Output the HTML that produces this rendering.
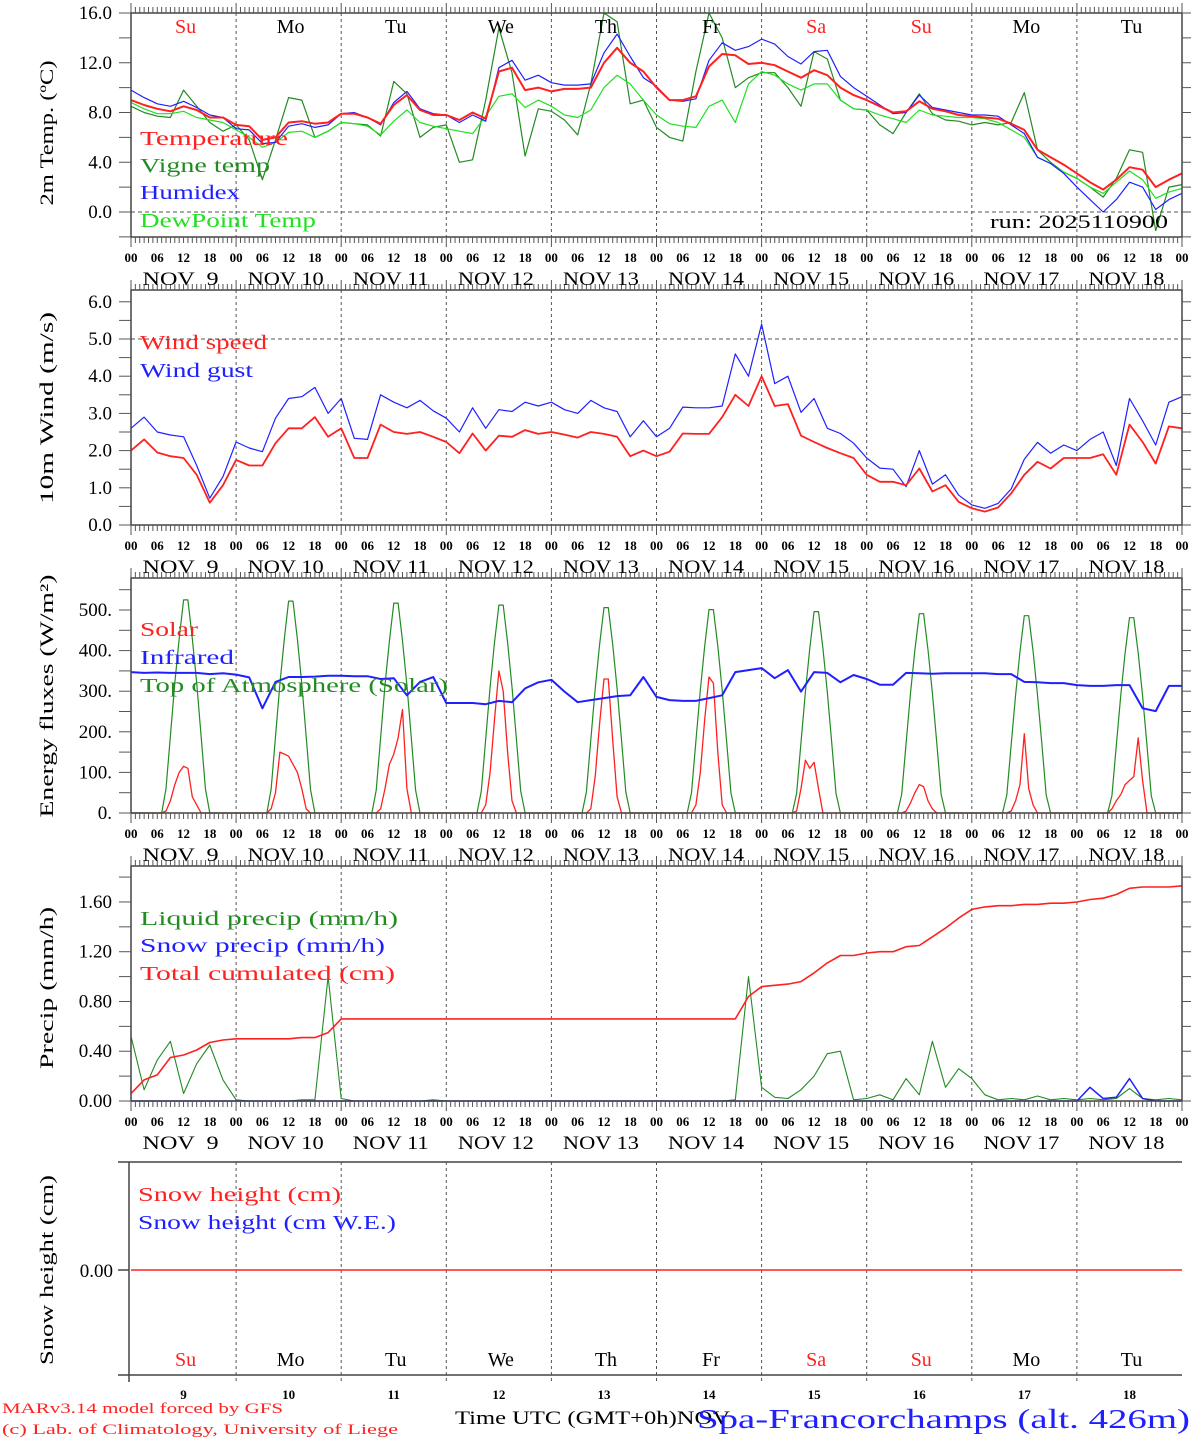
<!DOCTYPE html>
<html><head><meta charset="utf-8"><style>
html,body{margin:0;padding:0;background:#fff;}
svg{display:block;font-family:"Liberation Serif",serif;}
</style></head><body>
<svg id="chart" xmlns="http://www.w3.org/2000/svg" width="1194" height="1440" viewBox="0 0 1194 1440">
<rect x="0" y="0" width="1194" height="1440" fill="#fff"/>
<g id="grid"></g>
<g id="marks"></g>
<g id="axes"></g>
<g id="labels" font-family="Liberation Serif, serif">
<text transform="translate(53,133) rotate(-90)" text-anchor="middle" font-size="19" textLength="145" lengthAdjust="spacingAndGlyphs">2m Temp. (ºC)</text>
<text transform="translate(53,408) rotate(-90)" text-anchor="middle" font-size="19" textLength="192" lengthAdjust="spacingAndGlyphs">10m Wind (m/s)</text>
<text transform="translate(53,696) rotate(-90)" text-anchor="middle" font-size="19" textLength="243" lengthAdjust="spacingAndGlyphs">Energy fluxes (W/m²)</text>
<text transform="translate(53,988) rotate(-90)" text-anchor="middle" font-size="19" textLength="162" lengthAdjust="spacingAndGlyphs">Precip (mm/h)</text>
<text transform="translate(53,1270) rotate(-90)" text-anchor="middle" font-size="19" textLength="190" lengthAdjust="spacingAndGlyphs">Snow height (cm)</text>

<text x="140" y="145" font-size="20" fill="#ff2020" textLength="148" lengthAdjust="spacingAndGlyphs">Temperature</text>
<text x="140" y="172" font-size="20" fill="#228b22" textLength="130" lengthAdjust="spacingAndGlyphs">Vigne temp</text>
<text x="140" y="199" font-size="20" fill="#2020ff" textLength="100" lengthAdjust="spacingAndGlyphs">Humidex</text>
<text x="140" y="227" font-size="20" fill="#20e020" textLength="176" lengthAdjust="spacingAndGlyphs">DewPoint Temp</text>
<text x="990" y="228" font-size="19" textLength="178" lengthAdjust="spacingAndGlyphs">run: 2025110900</text>

<text x="140" y="349" font-size="20" fill="#ff2020" textLength="127" lengthAdjust="spacingAndGlyphs">Wind speed</text>
<text x="140" y="377" font-size="20" fill="#2020ff" textLength="113" lengthAdjust="spacingAndGlyphs">Wind gust</text>

<text x="140" y="636" font-size="20" fill="#ff2020" textLength="58" lengthAdjust="spacingAndGlyphs">Solar</text>
<text x="140" y="664" font-size="20" fill="#2020ff" textLength="94" lengthAdjust="spacingAndGlyphs">Infrared</text>
<text x="140" y="692" font-size="20" fill="#228b22" textLength="308" lengthAdjust="spacingAndGlyphs">Top of Atmosphere (Solar)</text>

<text x="140" y="925" font-size="20" fill="#228b22" textLength="258" lengthAdjust="spacingAndGlyphs">Liquid precip (mm/h)</text>
<text x="140" y="952" font-size="20" fill="#2020ff" textLength="245" lengthAdjust="spacingAndGlyphs">Snow precip (mm/h)</text>
<text x="140" y="980" font-size="20" fill="#ff2020" textLength="255" lengthAdjust="spacingAndGlyphs">Total cumulated (cm)</text>

<text x="138" y="1201" font-size="20" fill="#ff2020" textLength="203" lengthAdjust="spacingAndGlyphs">Snow height (cm)</text>
<text x="138" y="1229" font-size="20" fill="#2020ff" textLength="258" lengthAdjust="spacingAndGlyphs">Snow height (cm W.E.)</text>

<text x="2" y="1413" font-size="15" fill="#ff2020" textLength="281" lengthAdjust="spacingAndGlyphs">MARv3.14 model forced by GFS</text>
<text x="2" y="1434" font-size="15" fill="#ff2020" textLength="396" lengthAdjust="spacingAndGlyphs">(c) Lab. of Climatology, University of Liege</text>
<text x="455" y="1424" font-size="19" textLength="275" lengthAdjust="spacingAndGlyphs">Time UTC (GMT+0h)NOV</text>
<text x="697" y="1428" font-size="27" fill="#2020ff" textLength="493" lengthAdjust="spacingAndGlyphs">Spa-Francorchamps (alt. 426m)</text>
</g>
</svg>
<script>
// ---------- data (3-hourly, 00h Nov 9 .. 00h Nov 19) ----------
const dayNames = ["Su","Mo","Tu","We","Th","Fr","Sa","Su","Mo","Tu"];
const dayNums = ["9","10","11","12","13","14","15","16","17","18"];
const hourLabels = ["00","06","12","18"];
const tempTicks = [0,4,8,12,16];
const windTicks = [0,1,2,3,4,5,6];
const fluxTicks = [0,100,200,300,400,500];
const precipTicks = [0,0.4,0.8,1.2,1.6];

const temperature = [9.0,8.6,8.3,8.1,8.5,8.2,7.6,7.6, 7.0,6.9,5.8,6.0,7.2,7.3,7.1,7.2, 7.9,7.9,7.6,7.1,8.6,9.4,8.2,7.8, 7.8,7.4,8.0,7.5,11.3,11.6,9.8,10.0, 9.7,9.9,9.9,10.0,12.0,13.2,12.0,11.3, 10.0,9.0,9.0,9.3,11.7,12.7,12.6,11.9, 12.0,11.8,11.3,10.8,11.4,11.0,10.0,9.4, 9.0,8.5,8.0,8.1,8.9,8.3,8.1,7.8, 7.7,7.6,7.5,7.1,6.6,5.0,4.4,3.8, 3.1,2.4,1.8,2.6,3.6,3.4,2.0,2.6,3.1];
const humidex = [9.8,9.2,8.7,8.5,8.9,8.4,7.8,7.6, 6.7,6.6,5.5,5.6,6.9,7.1,6.8,7.0, 7.9,8.0,7.6,7.0,8.8,9.7,8.3,7.9, 7.8,7.2,7.8,7.3,11.6,12.2,10.6,11.0, 10.4,10.2,10.2,10.3,12.8,14.3,12.5,10.8, 10.1,9.0,8.9,9.1,12.2,13.6,13.0,13.3, 13.9,13.5,12.5,11.9,12.9,13.0,10.9,10.0, 9.3,8.6,7.9,8.0,9.4,8.4,8.2,8.0, 7.8,7.8,7.7,7.0,6.3,4.4,3.9,3.1, 2.0,1.0,0.0,1.0,2.4,2.0,0.2,1.0,1.5];
const dewPoint = [8.8,8.3,7.9,7.9,8.1,7.6,7.4,7.2, 6.6,6.0,5.2,5.6,6.4,6.5,6.0,6.5, 7.2,7.1,6.9,6.2,7.3,8.2,7.2,6.9, 6.7,6.5,6.3,7.7,9.3,9.5,8.4,9.0, 8.5,7.8,7.6,8.2,10.0,11.0,10.3,9.0, 7.8,7.1,6.9,6.8,8.5,9.0,7.2,10.3, 11.3,11.0,10.3,9.8,10.3,10.3,9.0,8.3, 8.2,7.8,7.5,7.2,8.2,7.8,7.7,7.6, 7.6,7.5,7.2,6.6,6.0,4.4,3.9,3.2, 2.7,2.0,1.5,2.4,3.3,2.6,1.1,1.6,1.9];
const vigneTemp = [8.5,8.0,7.7,7.6,9.8,8.5,7.2,6.5, 7.0,5.8,2.6,5.8,9.2,9.0,6.0,6.5, 7.2,7.1,7.0,6.1,10.5,9.5,6.0,6.8, 7.0,4.0,4.2,9.0,14.8,11.2,4.5,8.3, 8.1,7.4,6.2,10.3,16.0,15.3,8.7,9.0, 6.8,6.0,5.7,11.3,16.0,14.0,10.0,10.8, 11.2,11.2,10.0,8.5,12.9,12.3,9.0,8.3, 8.2,7.0,6.3,8.0,9.5,7.9,7.4,7.3, 7.0,7.2,7.0,7.2,9.6,5.0,4.0,3.2, 2.7,2.0,1.2,2.7,5.0,4.8,-1.5,2.0,2.2];

const windSpeed = [2.0,2.3,1.95,1.85,1.8,1.35,0.6,1.07, 1.75,1.6,1.6,2.2,2.6,2.6,2.9,2.37, 2.6,1.8,1.8,2.7,2.5,2.45,2.5,2.37, 2.23,1.93,2.46,2.0,2.4,2.37,2.55,2.45, 2.5,2.43,2.35,2.5,2.45,2.37,1.85,2.0, 1.85,1.97,2.46,2.45,2.45,2.9,3.5,3.2, 4.0,3.2,3.25,2.4,2.23,2.07,1.93,1.8, 1.35,1.16,1.16,1.07,1.52,0.9,1.07,0.62, 0.45,0.36,0.47,0.85,1.35,1.7,1.52,1.8, 1.8,1.8,1.9,1.35,2.7,2.23,1.65,2.65,2.6];
const windGust = [2.6,2.9,2.5,2.42,2.37,1.6,0.72,1.3, 2.23,2.07,1.97,2.87,3.4,3.45,3.7,3.0, 3.4,2.33,2.3,3.5,3.3,3.15,3.35,3.07, 2.87,2.5,3.15,2.6,3.1,3.05,3.3,3.2, 3.3,3.1,3.0,3.35,3.15,3.05,2.37,2.8, 2.37,2.6,3.17,3.15,3.15,3.2,4.6,4.0, 5.4,3.8,4.0,3.03,3.4,2.6,2.46,2.2, 1.8,1.53,1.5,1.03,2.0,1.1,1.35,0.8, 0.54,0.45,0.58,0.97,1.77,2.22,1.93,2.15, 2.0,2.3,2.5,1.6,3.4,2.8,2.15,3.3,3.45];

const infrared = [347,345,346,345,345,345,342,344, 341,334,258,323,335,335,336,338, 338,337,337,330,332,290,323,335, 271,271,271,268,276,273,307,322, 328,299,273,278,283,288,290,335, 286,278,276,276,283,290,347,352, 357,332,352,299,347,345,322,340, 330,316,316,345,344,343,344,344, 344,344,342,342,323,322,320,320, 315,313,313,315,315,258,251,313,313];

// Daytime hourly values, hours 06..18 for each day (night = 0)
const toaByDay = [
 [0,0,60,190,320,430,525,525,430,320,190,60,0],
 [0,0,58,188,318,428,522,522,428,318,188,58,0],
 [0,0,56,185,315,424,517,517,424,315,185,56,0],
 [0,0,54,182,310,420,512,512,420,310,182,54,0],
 [0,0,52,180,306,415,506,506,415,306,180,52,0],
 [0,0,50,177,302,411,501,501,411,302,177,50,0],
 [0,0,48,174,298,406,496,496,406,298,174,48,0],
 [0,0,46,172,295,402,491,491,402,295,172,46,0],
 [0,0,44,169,291,398,486,486,398,291,169,44,0],
 [0,0,42,166,288,394,481,481,394,288,166,42,0]];
const solarByDay = [
 [0,0,5,30,70,100,115,110,40,20,0,0,0],
 [0,0,10,50,150,145,140,120,100,60,10,0,0],
 [0,0,0,10,60,120,145,185,255,60,0,0,0],
 [0,0,0,20,100,230,350,300,150,30,0,0,0],
 [0,0,0,10,90,220,330,330,180,40,0,0,0],
 [0,0,0,20,100,230,335,320,150,20,0,0,0],
 [0,0,5,60,130,110,125,60,0,0,0,0,0],
 [0,0,0,5,25,50,70,65,30,10,0,0,0],
 [0,0,0,5,30,70,195,60,20,0,0,0,0],
 [0,0,10,30,45,70,80,90,185,80,0,0,0]];

const liquidPrecip = [0.52,0.09,0.33,0.48,0.06,0.3,0.45,0.17, 0.01,0,0,0,0,0.01,0.01,1.0, 0.02,0,0,0,0,0,0,0.01, 0,0,0,0,0,0,0,0, 0,0,0,0,0,0,0,0, 0,0,0,0,0,0,0.01,1.0, 0.11,0.03,0.02,0.09,0.2,0.38,0.4,0.01, 0.02,0.05,0.01,0.18,0.05,0.48,0.11,0.26, 0.18,0.05,0.01,0.02,0.01,0.04,0.01,0.02, 0.01,0.02,0.01,0.02,0.1,0.02,0.01,0.02,0.01];
const snowPrecip = [0,0,0,0,0,0,0,0, 0,0,0,0,0,0,0,0, 0,0,0,0,0,0,0,0, 0,0,0,0,0,0,0,0, 0,0,0,0,0,0,0,0, 0,0,0,0,0,0,0,0, 0,0,0,0,0,0,0,0, 0,0,0,0,0,0,0,0, 0,0,0,0,0,0,0,0, 0,0.11,0.02,0.03,0.18,0.02,0,0,0];
const totalCumulated = [0.06,0.17,0.21,0.35,0.37,0.41,0.47,0.49, 0.5,0.5,0.5,0.5,0.5,0.51,0.51,0.55, 0.66,0.66,0.66,0.66,0.66,0.66,0.66,0.66, 0.66,0.66,0.66,0.66,0.66,0.66,0.66,0.66, 0.66,0.66,0.66,0.66,0.66,0.66,0.66,0.66, 0.66,0.66,0.66,0.66,0.66,0.66,0.66,0.84, 0.92,0.93,0.94,0.96,1.03,1.11,1.17,1.17, 1.19,1.2,1.2,1.24,1.25,1.32,1.39,1.47, 1.54,1.56,1.57,1.57,1.58,1.58,1.59,1.59, 1.6,1.62,1.63,1.66,1.71,1.72,1.72,1.72,1.73];
const snowHeight = [0,0];

// ---------- scales ----------
const NS = "http://www.w3.org/2000/svg";
const X0 = 131, X1 = 1182, HOURS = 240;
function xs(h){ return X0 + h*(X1-X0)/HOURS; }
const panels = [
 {top:13,  bottom:237,  y:v=>212 - v*12.4375},
 {top:290, bottom:525,  y:v=>525 - v*37.2},
 {top:578, bottom:813,  y:v=>813 - v*0.406},
 {top:866, bottom:1101, y:v=>1101 - v*124.4},
 {top:1162,bottom:1375, y:v=>1270 - v*50}];
const grid = document.getElementById('grid');
const marks = document.getElementById('marks');
const axes = document.getElementById('axes');
const labels = document.getElementById('labels');
function mk(tag, attrs, parent){
  const e = document.createElementNS(NS, tag);
  for (const k in attrs) e.setAttribute(k, attrs[k]);
  parent.appendChild(e);
  return e;
}
function line(x1,y1,x2,y2,stroke,w,parent,dash){
  const a = {x1:x1,y1:y1,x2:x2,y2:y2,stroke:stroke,'stroke-width':w};
  if (dash) a['stroke-dasharray']=dash;
  return mk('line', a, parent);
}
function txt(x,y,s,size,anchor,fill,parent,weight){
  const t = mk('text',{x:x,y:y,'font-size':size,'text-anchor':anchor,fill:fill||'#000'},parent);
  if (weight) t.setAttribute('font-weight',weight);
  t.textContent = s;
  return t;
}
function seriesPath(vals, stepH, yf, color, width, name){
  let d = '';
  vals.forEach((v,i)=>{ d += (i?'L':'M') + xs(i*stepH).toFixed(1) + ',' + yf(v).toFixed(1); });
  const p = mk('path',{d:d,fill:'none',stroke:color,'stroke-width':width,'stroke-linejoin':'round'},marks);
  
  
  return p;
}
function hourlyFromDays(byDay){
  const out = [];
  for (let h=0; h<=HOURS; h++){
    const d = Math.floor(h/24), hh = h%24;
    if (d<byDay.length && hh>=6 && hh<=18) out.push(byDay[d][hh-6]); else out.push(0);
  }
  return out;
}

// ---------- frames, grid, ticks ----------
panels.forEach((p,pi)=>{
  const last = pi===4;
  for (let d=1; d<10; d++){
    const x = xs(d*24);
    const l = line(x,p.top,x,last?p.bottom+8:p.bottom,'#555',1,grid,'3,3');
    
    
  }
  if (!last){
    const f = mk('rect',{x:X0,y:p.top,width:X1-X0,height:p.bottom-p.top,fill:'none',stroke:'#444','stroke-width':1.5},axes);
    
    
    for (let h=0; h<=HOURS; h++){
      const x = xs(h);
      const len = (h%24===0)?10:6;
      const t1 = line(x,p.top,x,p.top-len,'#555',1,axes);
      
      
      const t2 = line(x,p.bottom,x,p.bottom+len,'#555',1,axes);
      
      
    }
    for (let d=0; d<=10; d++){
      for (let k=0; k<4; k++){
        if (d===10 && k>0) continue;
        const t = txt(xs(d*24+k*6), p.bottom+25, hourLabels[k], 13, 'middle', '#000', labels, 'bold');
        
        
      }
      if (d<10){
        const dl = txt(xs(d*24+12)-3, p.bottom+48, 'NOV ' + (dayNums[d].length<2?'\u00a0':'') + dayNums[d], 19, 'middle', '#000', labels);
        dl.setAttribute('textLength','76');
        dl.setAttribute('lengthAdjust','spacingAndGlyphs');
        
        
      }
    }
  } else {
    const a1 = line(118,p.top,X1,p.top,'#444',1.5,axes);
    
    
    const a2 = line(118,p.bottom,X1,p.bottom,'#444',1.5,axes);
    
    
    const a3 = line(129,p.top,129,p.bottom+7,'#444',1.5,axes);
    
    
    const tk = line(118,1270,129,1270,'#444',1.5,axes);
    
    
    const tl = txt(113,1277,'0.00',19,'end','#000',labels);
    
    
    for (let d=0; d<10; d++){
      const n = txt(xs(d*24+12),1399,dayNums[d],13,'middle','#000',labels,'bold');
      
      
    }
  }
  if (pi===0 || last){
    for (let d=0; d<10; d++){
      const red = dayNames[d]==='Su'||dayNames[d]==='Sa';
      const w = txt(xs(d*24+12)+2, pi===0?33:1366, dayNames[d], 20, 'middle', red?'#ff2020':'#000', labels);
      
      
    }
  }
});

function yAxis(pi, ticks, minorStep, fmt, vmin, vmax){
  const p = panels[pi];
  for (let v=vmin; v<=vmax+1e-9; v+=minorStep){
    const y = p.y(v);
    if (y < p.top-0.5 || y > p.bottom+0.5) continue;
    const l = line(X0-12,y,X0,y,'#555',1,axes);
    
    
    const r = line(X1,y,X1+9,y,'#555',1,axes);
    
    
  }
  ticks.forEach(v=>{
    const t = txt(112, p.y(v)+6, fmt(v), 19, 'end', '#000', labels);
    
    
  });
}
yAxis(0, tempTicks, 2, v=>v.toFixed(1), -2, 16);
yAxis(1, windTicks, 0.5, v=>v.toFixed(1), 0, 6.3);
yAxis(2, fluxTicks, 50, v=>v.toFixed(0)+'.', 0, 579);
yAxis(3, precipTicks, 0.2, v=>v.toFixed(2), 0, 1.88);

const z0 = line(X0,panels[0].y(0),X1,panels[0].y(0),'#555',1,grid,'4,3');


const w5 = line(X0,panels[1].y(5),X1,panels[1].y(5),'#555',1,grid,'4,3');



// ---------- series ----------
const P = panels;
seriesPath(vigneTemp, 3, P[0].y, '#228b22', 1.2, 'vigne-temp-line');
seriesPath(dewPoint, 3, P[0].y, '#20e020', 1.2, 'dewpoint-line');
seriesPath(humidex, 3, P[0].y, '#2020ff', 1.2, 'humidex-line');
seriesPath(temperature, 3, P[0].y, '#ff2020', 2, 'temperature-line');

seriesPath(windGust, 3, P[1].y, '#2020ff', 1.2, 'wind-gust-line');
seriesPath(windSpeed, 3, P[1].y, '#ff2020', 1.8, 'wind-speed-line');

seriesPath(hourlyFromDays(toaByDay), 1, P[2].y, '#228b22', 1.2, 'toa-solar-line');
seriesPath(hourlyFromDays(solarByDay), 1, P[2].y, '#ff2020', 1.3, 'solar-line');
seriesPath(infrared, 3, P[2].y, '#2020ff', 2, 'infrared-line');

seriesPath(liquidPrecip, 3, P[3].y, '#228b22', 1.1, 'liquid-precip-line');
seriesPath(snowPrecip, 3, P[3].y, '#2020ff', 1.5, 'snow-precip-line');
seriesPath(totalCumulated, 3, P[3].y, '#ff2020', 1.6, 'total-cumulated-line');

seriesPath(snowHeight, 240, P[4].y, '#ff2020', 1.6, 'snow-height-line');
</script>
</body></html>
